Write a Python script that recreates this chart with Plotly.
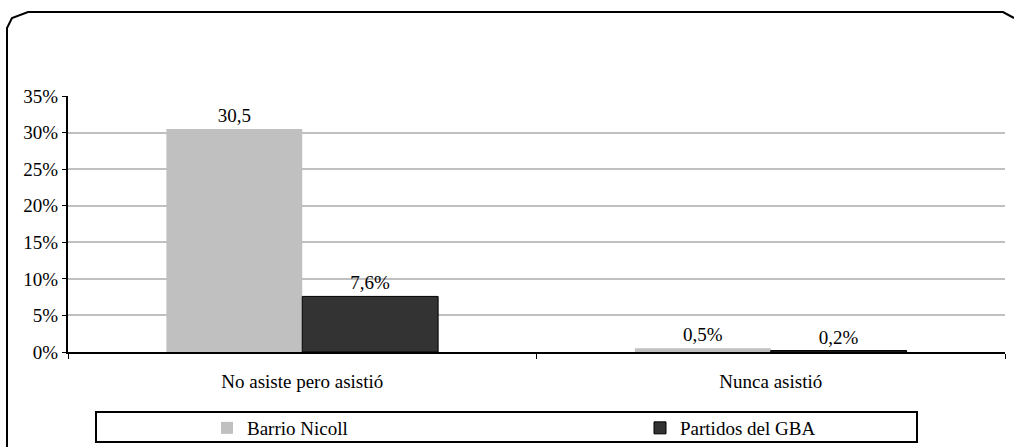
import plotly.graph_objects as go

categories = ["No asiste pero asistió", "Nunca asistió"]
series_names = ["Barrio Nicoll", "Partidos del GBA"]
barrio_values = [30.5, 0.5]
partidos_values = [7.6, 0.2]
barrio_labels = ["30,5", "0,5%"]
partidos_labels = ["7,6%", "0,2%"]
y_ticks = [0, 5, 10, 15, 20, 25, 30, 35]
y_tick_labels = ["0%", "5%", "10%", "15%", "20%", "25%", "30%", "35%"]

W, H = 1014, 447
ML, MR, MT, MB = 68, 9, 96, 95
FONT = "Times New Roman, Liberation Serif, serif"
FS = 19

fig = go.Figure()
fig.add_trace(go.Bar(
    x=categories, y=barrio_values, name=series_names[0],
    text=barrio_labels, textposition="outside", cliponaxis=False,
    marker=dict(color="#c0c0c0", line=dict(color="#000000", width=0)),
    textfont=dict(family=FONT, size=FS, color="#000000"),
))
fig.add_trace(go.Bar(
    x=categories, y=partidos_values, name=series_names[1],
    text=partidos_labels, textposition="outside", cliponaxis=False,
    marker=dict(color="#333333", line=dict(color="#000000", width=1)),
    textfont=dict(family=FONT, size=FS, color="#000000"),
))

pw = W - ML - MR
ph = H - MT - MB
def px(x):
    return (x - ML) / pw
def py(y):
    return (H - MB - y) / ph

frame_path = (
    f"M {px(7)},{py(470)} L {px(7)},{py(28)} L {px(12)},{py(18)} L {px(28)},{py(12)} "
    f"L {px(1003)},{py(12)} L {px(1014)},{py(18)}"
)
fig.add_shape(type="path", xref="paper", yref="paper", path=frame_path,
              line=dict(color="#000000", width=2), layer="above")
fig.add_shape(type="rect", xref="paper", yref="paper",
              x0=px(96), x1=px(917), y0=py(412), y1=py(442),
              line=dict(color="#000000", width=2), fillcolor="rgba(0,0,0,0)")

fig.update_layout(
    width=W, height=H,
    margin=dict(l=ML, r=MR, t=MT, b=MB, autoexpand=False),
    paper_bgcolor="#ffffff", plot_bgcolor="#ffffff",
    barmode="group", bargap=0.42, bargroupgap=0,
    font=dict(family=FONT, size=FS, color="#000000"),
    showlegend=True,
    legend=dict(
        orientation="h", xref="container", yref="container",
        x=207 / W, xanchor="left", y=1 - 428 / H, yanchor="middle",
        entrywidth=388, entrywidthmode="pixels",
        bgcolor="rgba(0,0,0,0)", borderwidth=0,
        font=dict(family=FONT, size=FS, color="#000000"),
        itemwidth=30,
    ),
    xaxis=dict(
        showline=True, linecolor="#000000", linewidth=2,
        ticks="outside", ticklen=5, tickcolor="#000000", tickwidth=1,
        tickson="boundaries", showgrid=False, ticklabelstandoff=11,
        tickfont=dict(family=FONT, size=FS, color="#000000"),
    ),
    yaxis=dict(
        range=[0, 35], tickmode="array", tickvals=y_ticks, ticktext=y_tick_labels,
        showline=True, linecolor="#000000", linewidth=2,
        ticks="outside", ticklen=4, tickcolor="#000000", tickwidth=1,
        showgrid=True, gridcolor="#c0c0c0", gridwidth=2,
        zeroline=False, ticklabelstandoff=0,
        tickfont=dict(family=FONT, size=FS, color="#000000"),
    ),
)

fig.write_html("out.html", post_script="document.body.style.margin='0';",
               config={"displayModeBar": False})
